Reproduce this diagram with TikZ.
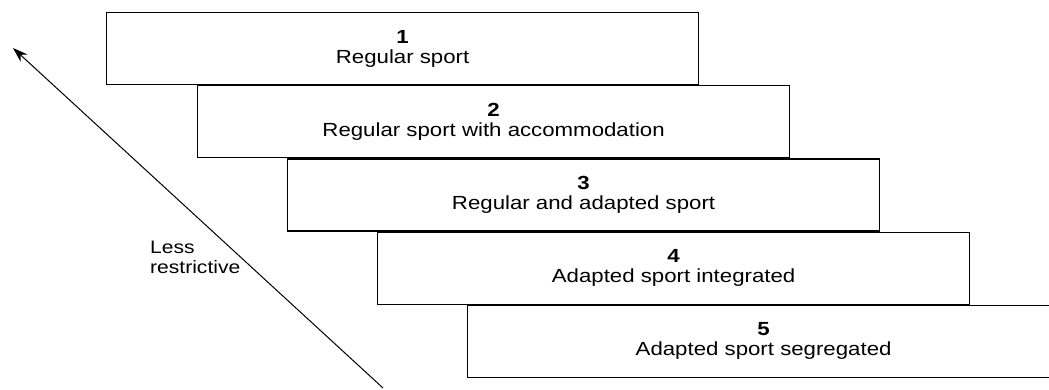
\documentclass[tikz,border=0pt]{standalone}
\usepackage{fontspec}
\setmainfont[FakeStretch=1.17]{Liberation Sans}
\usetikzlibrary{positioning,arrows.meta,calc}

\begin{document}
\begin{tikzpicture}[
  x=1pt, y=-1pt,
  font=\fontsize{19}{20}\selectfont, >={Stealth[length=15pt,width=10pt]},
  level/.style={draw, line width=1.2pt, fill=white, align=center,
                minimum width=592pt, minimum height=72pt, inner sep=0pt,
                anchor=north west},
  pointer/.style={->, line width=1pt},
]
\useasboundingbox (0,0) rectangle (1049,390);
% staircase of settings, most integrated on top
\node[level] (l1) at (106,12) {\textbf{1}\\Regular sport};
\node[level] (l2) at ($(l1.south west)+(91,0)$)
  {\textbf{2}\\Regular sport with accommodation};
\node[level] (l3) at ($(l2.south west)+(90,0)$)
  {\textbf{3}\\Regular and adapted sport};
\node[level] (l4) at ($(l3.south west)+(90,0)$)
  {\textbf{4}\\Adapted sport integrated};
\node[level] (l5) at ($(l4.south west)+(90,0)$)
  {\textbf{5}\\Adapted sport segregated};
% direction arrow
\coordinate (low) at (383,388);
\coordinate (tip) at (13,48);
\draw[pointer] (low) -- (tip);
\node[align=left, anchor=west, inner sep=0pt, font=\fontsize{18}{20}\selectfont]
  (less) at (150,257) {Less\\restrictive};
\end{tikzpicture}
\end{document}
